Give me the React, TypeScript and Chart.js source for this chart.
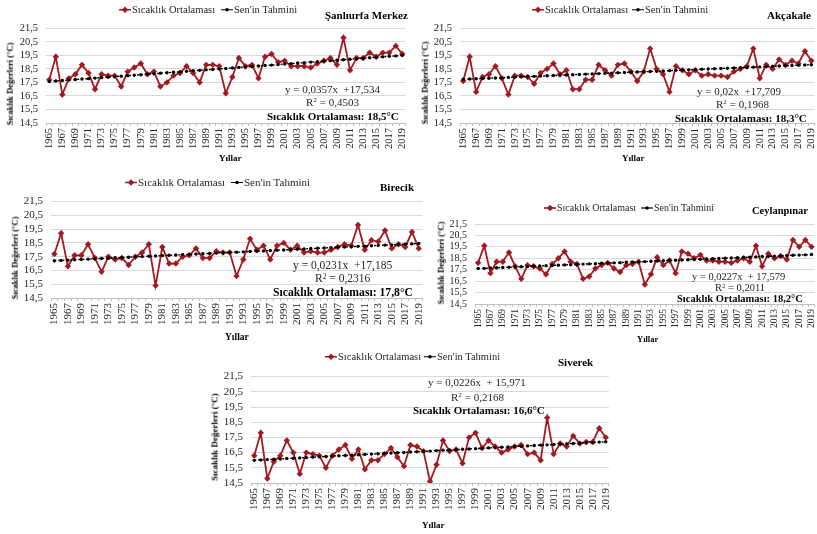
import React, { useEffect, useRef } from "react";
import { Chart, registerables } from "chart.js";

Chart.register(...registerables);

const YEARS = [
  1965, 1966, 1967, 1968, 1969, 1970, 1971, 1972, 1973, 1974, 1975, 1976, 1977, 1978,
  1979, 1980, 1981, 1982, 1983, 1984, 1985, 1986, 1987, 1988, 1989, 1990, 1991, 1992,
  1993, 1994, 1995, 1996, 1997, 1998, 1999, 2000, 2001, 2002, 2003, 2004, 2005, 2006,
  2007, 2008, 2009, 2010, 2011, 2012, 2013, 2014, 2015, 2016, 2017, 2018, 2019,
];
const Y_TICKS = [14.5, 15.5, 16.5, 17.5, 18.5, 19.5, 20.5, 21.5];

const SANLIURFA_TEMP = [
  17.7, 19.4, 16.6, 17.8, 18.1,
  18.8, 18.2, 17.0, 18.1, 18.0, 18.0, 17.2, 18.3, 18.6, 18.9,
  18.1, 18.3, 17.2, 17.5, 18.0, 18.2, 18.7, 18.2, 17.5, 18.8,
  18.8, 18.7, 16.7, 17.9, 19.3, 18.7, 18.8, 17.8, 19.4, 19.6,
  19.0, 19.1, 18.7, 18.7, 18.7, 18.6, 18.9, 19.1, 19.3, 18.8,
  20.8, 18.4, 19.3, 19.3, 19.7, 19.4, 19.7, 19.7, 20.2, 19.6,
];
const SANLIURFA_TREND = [
  17.57, 17.61, 17.64, 17.68, 17.71, 17.75, 17.78, 17.82, 17.86, 17.89, 17.93, 17.96,
  18.0, 18.03, 18.07, 18.11, 18.14, 18.18, 18.21, 18.25, 18.28, 18.32, 18.36, 18.39,
  18.43, 18.46, 18.5, 18.53, 18.57, 18.61, 18.64, 18.68, 18.71, 18.75, 18.78, 18.82,
  18.86, 18.89, 18.93, 18.96, 19.0, 19.03, 19.07, 19.11, 19.14, 19.18, 19.21, 19.25,
  19.28, 19.32, 19.36, 19.39, 19.43, 19.46, 19.5,
];

const AKCAKALE_TEMP = [
  17.6, 19.4, 16.8, 17.9, 18.1,
  18.7, 17.8, 16.6, 18.0, 18.0, 17.9, 17.4, 18.2, 18.5, 18.9,
  18.1, 18.4, 17.0, 17.0, 17.7, 17.7, 18.8, 18.4, 18.0, 18.8,
  18.9, 18.3, 17.6, 18.3, 20.0, 18.5, 18.1, 16.8, 18.7, 18.4,
  18.1, 18.4, 18.0, 18.1, 18.0, 18.0, 17.9, 18.3, 18.5, 18.7,
  20.0, 17.8, 18.8, 18.5, 19.2, 18.8, 19.1, 18.9, 19.8, 19.1,
];
const AKCAKALE_TREND = [
  17.73, 17.75, 17.77, 17.79, 17.81, 17.83, 17.85, 17.87, 17.89, 17.91, 17.93, 17.95,
  17.97, 17.99, 18.01, 18.03, 18.05, 18.07, 18.09, 18.11, 18.13, 18.15, 18.17, 18.19,
  18.21, 18.23, 18.25, 18.27, 18.29, 18.31, 18.33, 18.35, 18.37, 18.39, 18.41, 18.43,
  18.45, 18.47, 18.49, 18.51, 18.53, 18.55, 18.57, 18.59, 18.61, 18.63, 18.65, 18.67,
  18.69, 18.71, 18.73, 18.75, 18.77, 18.79, 18.81,
];

const BIRECIK_TEMP = [
  17.7, 19.2, 16.8, 17.6, 17.6,
  18.4, 17.4, 16.4, 17.5, 17.3, 17.4, 16.9, 17.5, 17.8, 18.4,
  15.4, 18.2, 17.0, 17.0, 17.5, 17.6, 18.1, 17.4, 17.4, 17.9,
  17.8, 17.8, 16.1, 17.3, 18.8, 18.0, 18.3, 17.3, 18.3, 18.5,
  18.0, 18.3, 17.8, 17.9, 17.8, 17.8, 18.0, 18.2, 18.4, 18.3,
  19.8, 18.0, 18.7, 18.6, 19.4, 18.1, 18.4, 18.2, 19.3, 18.1,
];
const BIRECIK_TREND = [
  17.21, 17.23, 17.25, 17.28, 17.3, 17.32, 17.35, 17.37, 17.39, 17.42, 17.44, 17.46,
  17.49, 17.51, 17.53, 17.55, 17.58, 17.6, 17.62, 17.65, 17.67, 17.69, 17.72, 17.74,
  17.76, 17.79, 17.81, 17.83, 17.85, 17.88, 17.9, 17.92, 17.95, 17.97, 17.99, 18.02,
  18.04, 18.06, 18.09, 18.11, 18.13, 18.16, 18.18, 18.2, 18.22, 18.25, 18.27, 18.29,
  18.32, 18.34, 18.36, 18.39, 18.41, 18.43, 18.46,
];

const CEYLANPINAR_TEMP = [
  18.1, 19.6, 17.2, 18.2, 18.2,
  19.0, 17.8, 16.7, 17.9, 17.8, 17.6, 17.1, 18.0, 18.5, 19.1,
  18.2, 18.0, 16.7, 16.9, 17.6, 17.9, 18.1, 17.6, 17.3, 17.9,
  18.0, 18.2, 16.2, 17.1, 18.6, 17.9, 18.3, 17.2, 19.1, 18.9,
  18.5, 18.8, 18.3, 18.3, 18.2, 18.2, 18.1, 18.3, 18.5, 18.2,
  19.6, 17.8, 18.9, 18.5, 18.7, 18.4, 20.1, 19.5, 20.1, 19.5,
];
const CEYLANPINAR_TREND = [
  17.6, 17.62, 17.65, 17.67, 17.69, 17.71, 17.74, 17.76, 17.78, 17.81, 17.83, 17.85,
  17.87, 17.9, 17.92, 17.94, 17.96, 17.99, 18.01, 18.03, 18.06, 18.08, 18.1, 18.12,
  18.15, 18.17, 18.19, 18.21, 18.24, 18.26, 18.28, 18.31, 18.33, 18.35, 18.37, 18.4,
  18.42, 18.44, 18.46, 18.49, 18.51, 18.53, 18.55, 18.58, 18.6, 18.62, 18.65, 18.67,
  18.69, 18.71, 18.74, 18.76, 18.78, 18.8, 18.83,
];

const SIVEREK_TEMP = [
  16.3, 17.8, 14.8, 15.9, 16.3,
  17.3, 16.5, 15.1, 16.5, 16.4, 16.3, 15.5, 16.3, 16.7, 17.0,
  16.1, 16.7, 15.4, 16.0, 16.0, 16.4, 16.8, 16.2, 15.6, 17.0,
  16.9, 16.6, 14.6, 15.7, 17.3, 16.6, 16.7, 15.8, 17.5, 17.8,
  16.8, 17.3, 16.9, 16.5, 16.7, 16.9, 17.0, 16.4, 16.5, 16.0,
  18.8, 16.4, 17.1, 16.9, 17.6, 17.1, 17.2, 17.2, 18.1, 17.5,
];
const SIVEREK_TREND = [
  15.99, 16.02, 16.04, 16.06, 16.08, 16.11, 16.13, 16.15, 16.17, 16.2, 16.22, 16.24,
  16.27, 16.29, 16.31, 16.33, 16.36, 16.38, 16.4, 16.42, 16.45, 16.47, 16.49, 16.51,
  16.54, 16.56, 16.58, 16.6, 16.63, 16.65, 16.67, 16.69, 16.72, 16.74, 16.76, 16.78,
  16.81, 16.83, 16.85, 16.87, 16.9, 16.92, 16.94, 16.97, 16.99, 17.01, 17.03, 17.06,
  17.08, 17.1, 17.12, 17.15, 17.17, 17.19, 17.21,
];

const STATION_NAMES = ["Şanlıurfa Merkez", "Akçakale", "Birecik", "Ceylanpınar", "Siverek"];
const EQUATIONS = [
  "y = 0,0357x  +17,534",
  "y = 0,02x  +17,709",
  "y = 0,0231x  +17,185",
  "y = 0,0227x  + 17,579",
  "y = 0,0226x  + 15,971",
];
const R2_VALUES = ["0,4503", "0,1968", "0,2316", "0,2011", "0,2168"];
const MEANS = ["18,5", "18,3", "17,8", "18,2", "16,6"];
const TEMPS = [SANLIURFA_TEMP, AKCAKALE_TEMP, BIRECIK_TEMP, CEYLANPINAR_TEMP, SIVEREK_TEMP];
const TRENDS = [SANLIURFA_TREND, AKCAKALE_TREND, BIRECIK_TREND, CEYLANPINAR_TREND, SIVEREK_TREND];

const SERIES_1 = "Sıcaklık Ortalaması";
const SERIES_2 = "Sen'in Tahmini";
const Y_TITLE = "Sıcaklık Değerleri (°C)";
const X_TITLE = "Yıllar";

// ---- layout / style (separate from data) ----
const FONT = "'Liberation Serif', 'Times New Roman', serif";
const RED = "#a01b21";
const TXT = "#262626";

type Lay = {
  area: { l: number; r: number; t: number; b: number };
  yFont: number; xFont: number;
  leg: { x1: number; x2: number; y: number; size: number };
  title: { x: number; y: number; size: number };
  eq: { x: number; y: number; size: number };
  r2: { x: number; y: number; size: number };
  mean: { x: number; y: number; size: number };
  yt: { x: number; y: number; size: number };
  xt: { x: number; y: number; size: number };
};

const LAYOUTS: Lay[] = [
  {
    area: { l: 46, r: 409, t: 24, b: 123 }, yFont: 10.5, xFont: 10.5,
    leg: { x1: 119, x2: 221, y: 10, size: 10.5 },
    title: { x: 325, y: 15, size: 11 },
    eq: { x: 285, y: 89, size: 11 }, r2: { x: 306, y: 102, size: 11 }, mean: { x: 267, y: 116, size: 11 },
    yt: { x: 10, y: 84, size: 8.5 }, xt: { x: 219, y: 158, size: 9 },
  },
  {
    area: { l: 460, r: 818, t: 24, b: 123 }, yFont: 10.5, xFont: 10.5,
    leg: { x1: 532, x2: 632, y: 10, size: 10.5 },
    title: { x: 767, y: 15, size: 11 },
    eq: { x: 697, y: 91, size: 11 }, r2: { x: 716, y: 104, size: 11 }, mean: { x: 675, y: 118, size: 11 },
    yt: { x: 425, y: 83, size: 8.5 }, xt: { x: 622, y: 158, size: 9 },
  },
  {
    area: { l: 51, r: 426, t: 197, b: 298 }, yFont: 11, xFont: 11,
    leg: { x1: 125, x2: 231, y: 182, size: 11 },
    title: { x: 380, y: 187, size: 11 },
    eq: { x: 293, y: 266, size: 11.5 }, r2: { x: 315, y: 279, size: 11.5 }, mean: { x: 273, y: 293, size: 11.7 },
    yt: { x: 15, y: 258, size: 8.5 }, xt: { x: 225, y: 338, size: 9.5 },
  },
  {
    area: { l: 475, r: 817, t: 220, b: 304 }, yFont: 10, xFont: 9.5,
    leg: { x1: 544, x2: 641, y: 208, size: 10 },
    title: { x: 752, y: 211, size: 10.5 },
    eq: { x: 692, y: 277, size: 10.5 }, r2: { x: 715, y: 288, size: 10.5 }, mean: { x: 677, y: 299, size: 10.5 },
    yt: { x: 441, y: 263, size: 8.5 }, xt: { x: 637, y: 339, size: 8.5 },
  },
  {
    area: { l: 251, r: 613, t: 372, b: 483 }, yFont: 11, xFont: 11,
    leg: { x1: 325, x2: 424, y: 357, size: 10.5 },
    title: { x: 558, y: 362, size: 11 },
    eq: { x: 428, y: 382, size: 11 }, r2: { x: 451, y: 397, size: 11 }, mean: { x: 413, y: 410, size: 11 },
    yt: { x: 215, y: 437, size: 9 }, xt: { x: 422, y: 525, size: 9 },
  },
];

const Y_W = 45;
const PAD_T = 10;
const PAD_R = 8;
const X_H = 40;

function Txt(props: { x: number; y: number; size: number; bold?: boolean; color?: string; children: React.ReactNode }) {
  return (
    <div
      style={{
        position: "absolute", left: props.x, top: props.y, transform: "translateY(-50%)",
        fontFamily: FONT, fontSize: props.size, fontWeight: props.bold ? 700 : 400,
        whiteSpace: "pre", lineHeight: 1, color: props.color || TXT,
      }}
    >
      {props.children}
    </div>
  );
}

function LegendItem(props: { x: number; y: number; size: number; kind: "red" | "trend"; label: string }) {
  return (
    <div
      style={{
        position: "absolute", left: props.x, top: props.y, transform: "translateY(-50%)",
        display: "flex", alignItems: "center", fontFamily: FONT, fontSize: props.size,
        whiteSpace: "pre", lineHeight: 1, color: TXT,
      }}
    >
      <svg width="12" height="8" style={{ display: "block", marginRight: 1 }}>
        {props.kind === "red" ? (
          <>
            <line x1="0" y1="4" x2="12" y2="4" stroke={RED} strokeWidth="1.6" />
            <path d="M6 0.8 L9.2 4 L6 7.2 L2.8 4 Z" fill={RED} />
          </>
        ) : (
          <>
            <line x1="0" y1="4" x2="12" y2="4" stroke="#000" strokeWidth="1.2" />
            <circle cx="6" cy="4" r="1.8" fill="#000" />
          </>
        )}
      </svg>
      <span style={{ fontFamily: FONT }}>{props.label}</span>
    </div>
  );
}

function Panel({ idx }: { idx: number }) {
  const ref = useRef<HTMLCanvasElement>(null);
  const lay = LAYOUTS[idx];
  const a = lay.area;
  const cl = a.l - Y_W;
  const ct = a.t - PAD_T;
  const cw = a.r - a.l + Y_W + PAD_R;
  const ch = a.b - a.t + PAD_T + X_H;

  useEffect(() => {
    const chart = new Chart(ref.current as HTMLCanvasElement, {
      type: "line",
      data: {
        labels: YEARS.map(String),
        datasets: [
          {
            label: SERIES_1,
            data: TEMPS[idx],
            borderColor: RED,
            backgroundColor: RED,
            borderWidth: 1.8,
            pointStyle: "rectRot",
            pointRadius: 3.2,
            pointBackgroundColor: RED,
            pointBorderColor: RED,
            pointBorderWidth: 0,
            tension: 0,
            order: 1,
          },
          {
            label: SERIES_2,
            data: TRENDS[idx],
            borderColor: "#000",
            backgroundColor: "#000",
            borderWidth: 1.4,
            borderDash: [2, 2],
            pointStyle: "circle",
            pointRadius: 1.7,
            pointBackgroundColor: "#000",
            pointBorderWidth: 0,
            tension: 0,
            order: 0,
          },
        ],
      },
      options: {
        animation: false,
        responsive: false,
        maintainAspectRatio: false,
        layout: { padding: { left: 0, top: PAD_T, right: PAD_R, bottom: 0 } },
        plugins: { legend: { display: false }, tooltip: { enabled: false } },
        scales: {
          x: {
            type: "category",
            offset: true,
            grid: { display: true, drawOnChartArea: false, drawTicks: true, tickLength: 3, color: "#bfbfbf", offset: true },
            border: { display: true, color: "#bfbfbf", width: 1 },
            ticks: {
              autoSkip: false,
              minRotation: 90,
              maxRotation: 90,
              padding: 2,
              color: TXT,
              font: { family: FONT, size: lay.xFont },
              callback: (_v: any, i: number) => (i % 2 === 0 ? String(YEARS[i]) : ""),
            },
            afterFit: (s: any) => {
              s.height = X_H;
            },
          },
          y: {
            type: "linear",
            min: 14.5,
            max: 21.5,
            afterBuildTicks: (s: any) => {
              s.ticks = Y_TICKS.map((v) => ({ value: v }));
            },
            grid: { color: "#d9d9d9", drawTicks: false, lineWidth: 1 },
            border: { display: false },
            ticks: {
              autoSkip: false,
              padding: 8,
              color: TXT,
              font: { family: FONT, size: lay.yFont },
              callback: (v: any) => Number(v).toFixed(1).replace(".", ","),
            },
            afterFit: (s: any) => {
              s.width = Y_W;
            },
          },
        },
      },
    } as any);
    return () => chart.destroy();
  }, [idx]);

  return (
    <>
      <canvas
        ref={ref}
        width={cw}
        height={ch}
        style={{ position: "absolute", left: cl, top: ct, width: cw, height: ch }}
      />
      <LegendItem x={lay.leg.x1} y={lay.leg.y} size={lay.leg.size} kind="red" label={SERIES_1} />
      <LegendItem x={lay.leg.x2} y={lay.leg.y} size={lay.leg.size} kind="trend" label={SERIES_2} />
      <Txt x={lay.title.x} y={lay.title.y} size={lay.title.size} bold color="#000">
        {STATION_NAMES[idx]}
      </Txt>
      <Txt x={lay.eq.x} y={lay.eq.y} size={lay.eq.size}>
        {EQUATIONS[idx]}
      </Txt>
      <Txt x={lay.r2.x} y={lay.r2.y} size={lay.r2.size}>
        <>
          R<sup style={{ fontSize: "0.65em", verticalAlign: "0.45em", lineHeight: 0 }}>2</sup>
          {" = " + R2_VALUES[idx]}
        </>
      </Txt>
      <Txt x={lay.mean.x} y={lay.mean.y} size={lay.mean.size} bold color="#000">
        {"Sıcaklık Ortalaması: " + MEANS[idx] + "°C"}
      </Txt>
      <div
        style={{
          position: "absolute", left: lay.yt.x, top: lay.yt.y,
          transform: "translate(-50%, -50%) rotate(-90deg)",
          fontFamily: FONT, fontSize: lay.yt.size, fontWeight: 700,
          whiteSpace: "pre", lineHeight: 1, color: "#000",
        }}
      >
        {Y_TITLE}
      </div>
      <Txt x={lay.xt.x} y={lay.xt.y} size={lay.xt.size} bold color="#000">
        {X_TITLE}
      </Txt>
    </>
  );
}

export default function App() {
  return (
    <div
      style={{
        position: "fixed", left: 0, top: 0, width: 817, height: 534,
        overflow: "hidden", background: "#fff",
      }}
    >
      {[0, 1, 2, 3, 4].map((i) => (
        <Panel key={i} idx={i} />
      ))}
    </div>
  );
}
